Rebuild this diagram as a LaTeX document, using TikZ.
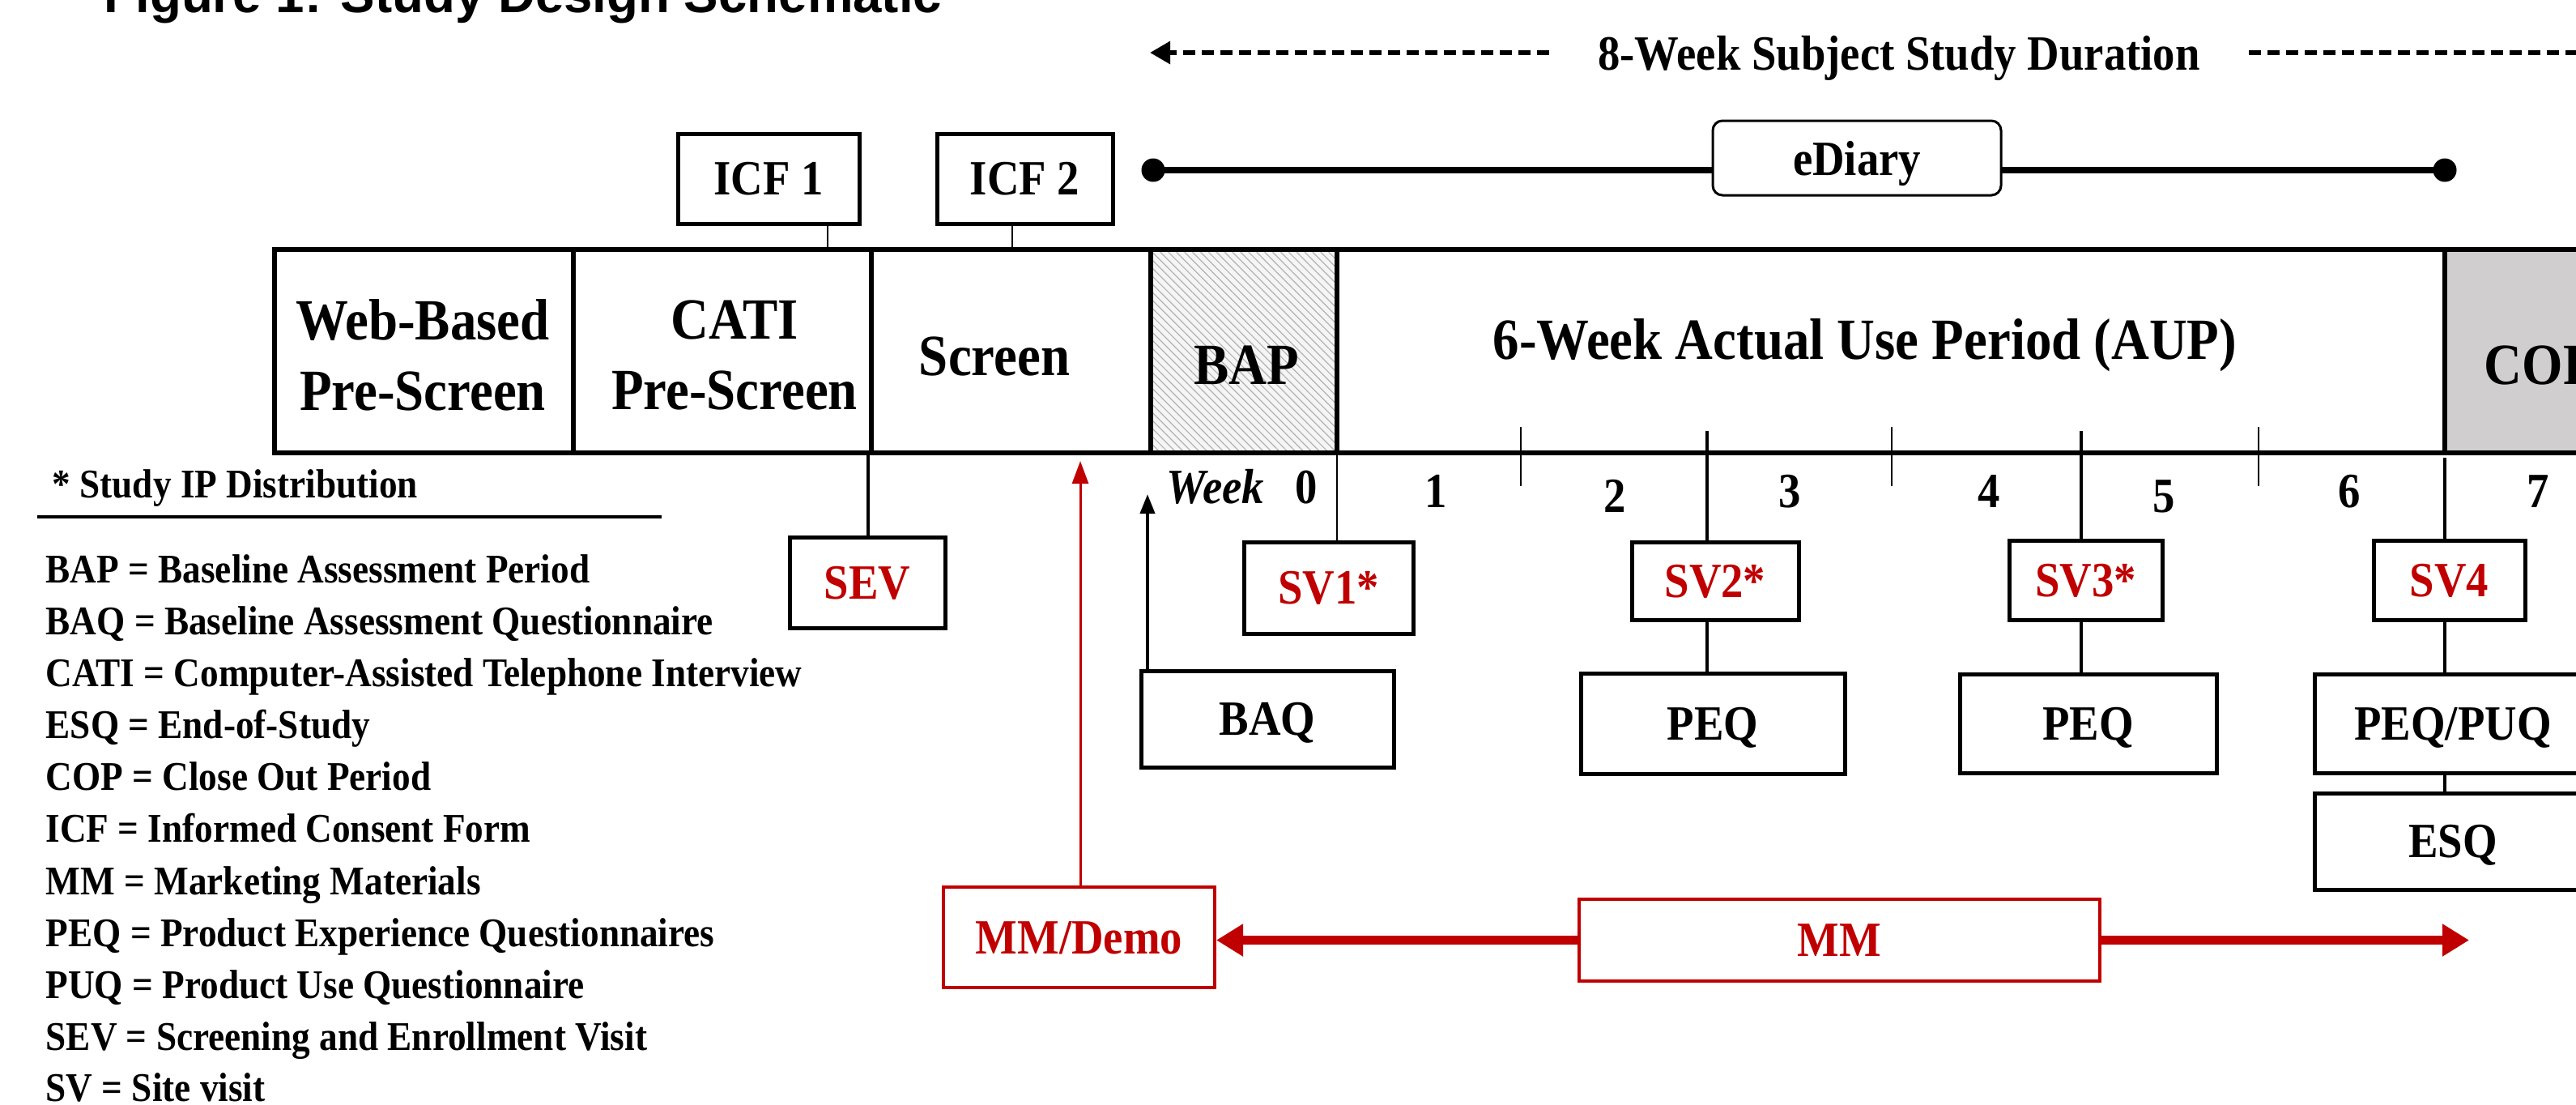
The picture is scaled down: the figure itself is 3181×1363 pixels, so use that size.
\documentclass[tikz,border=0pt]{standalone}
\usepackage{fontspec}
\setmainfont{Liberation Serif}[FakeStretch=0.9]
\newfontfamily\titlefont{Liberation Sans}
\usetikzlibrary{arrows.meta,patterns.meta}
\definecolor{dred}{RGB}{192,0,0}
\definecolor{copgray}{RGB}{208,206,206}
\newcommand\fBar{\fontsize{20.5pt}{24.75pt}\selectfont\bfseries}
\newcommand\fLbl{\fontsize{17.3pt}{20pt}\selectfont\bfseries}
\newcommand\fLeg{\fontsize{14.3pt}{17pt}\selectfont\bfseries}
\begin{document}
\begin{tikzpicture}[x=0.1mm,y=-0.1mm,
  seg/.style={draw=black, line width=0.65mm, inner sep=0pt, minimum height=25.1mm},
  boxn/.style={draw=black, line width=0.5mm, fill=white, inner sep=0pt, text depth=0pt, font=\fLbl},
  vis/.style={boxn, text=dred},
  mmbox/.style={boxn, draw=dred, text=dred, line width=0.4mm},
  bartxt/.style={font=\fBar, inner sep=0pt},
  legtxt/.style={font=\fLeg, anchor=base west, inner sep=0pt},
  numtxt/.style={font=\fLbl, anchor=base, inner sep=0pt},
  thinln/.style={line width=0.2mm},
  medln/.style={line width=0.4mm},
  dashln/.style={line width=0.6mm, dash pattern=on 1.5mm off 0.8mm},
  redarrow/.style={line width=1.1mm, draw=dred, -{Triangle[length=3.3mm,width=3.8mm]}}
]
\useasboundingbox (0,0) rectangle (3181,1363);
\clip (0,0) rectangle (3181,1363);

% title (cut off at the top)
\node[font=\titlefont\bfseries\fontsize{18.1pt}{20pt}\selectfont, anchor=base west, inner sep=0pt] (title) at (128,15) {Figure 1: Study Design Schematic};

% duration arrow
\node[font=\fLbl, text depth=0pt, inner xsep=6mm, inner ysep=0pt] (dur) at (2345,65) {8-Week Subject Study Duration};
\coordinate (durL) at (1420,65);
\coordinate (durR) at (3200,65);
\draw[dashln, -{Triangle[length=2.5mm,width=2.7mm]}] (dur.west) -- (durL);
\draw[dashln] (dur.east) -- (durR);

% eDiary
\coordinate (dL) at (1424,210);
\coordinate (dR) at (3019,210);
\draw[line width=0.85mm] (dL) -- (dR);
\fill (dL) circle (1.45mm);
\fill (dR) circle (1.45mm);
\node[boxn, rounded corners=1.2mm, line width=0.3mm, minimum width=35.6mm, minimum height=9.2mm] (ediary) at (2293,195) {eDiary};

% bar segments
\node[seg, minimum width=36.9mm] (web) at (523.5,433.5) {};
\node[seg, minimum width=36.8mm] (cati) at (892,433.5) {};
\node[seg, minimum width=34.5mm] (scr) at (1248.5,433.5) {};
\node[seg, minimum width=23mm, preaction={fill=gray!8}, pattern={Lines[angle=-45,distance=0.7mm,line width=0.12mm]}, pattern color=gray!60] (bap) at (1536,433.5) {};
\node[seg, minimum width=136.8mm] (aup) at (2335,433.5) {};
\node[seg, minimum width=28.1mm, fill=copgray] (cop) at (3159.5,433.5) {};

\node[bartxt, align=center] (webT) at (522,438) {Web-Based\\Pre-Screen};
\node[bartxt, align=center] (catiT) at (907,438) {CATI\\Pre-Screen};
\node[bartxt, anchor=base] (scrT) at (1228,463) {Screen};
\node[bartxt, anchor=base] (bapT) at (1539,474) {BAP};
\node[bartxt, anchor=base] (aupT) at (2303,443) {6-Week Actual Use Period (AUP)};
\node[bartxt, anchor=base west] (copT) at (3067,474) {COP};

% ICF boxes
\node[boxn, minimum width=22.4mm, minimum height=11.1mm] (icf1) at (949,220.5) {ICF 1};
\node[boxn, minimum width=21.7mm, minimum height=11.1mm] (icf2) at (1265.5,220.5) {ICF 2};
\coordinate (icf1b) at (1022,308);
\coordinate (icf2b) at (1250,308);
\draw[thinln] (icf1.south -| icf1b) -- (icf1b);
\draw[thinln] (icf2.south -| icf2b) -- (icf2b);

% week ticks
\coordinate (t1a) at (1878,527); \coordinate (t1b) at (1878,600);
\coordinate (t2a) at (2336,527); \coordinate (t2b) at (2336,600);
\coordinate (t3a) at (2789,527); \coordinate (t3b) at (2789,600);
\draw[thinln] (t1a) -- (t1b);
\draw[thinln] (t2a) -- (t2b);
\draw[thinln] (t3a) -- (t3b);

% week labels
\node[font=\fLbl\itshape, anchor=base west, inner sep=0pt] (wk) at (1440,621) {Week};
\node[numtxt] (n0) at (1613,621) {0};
\node[numtxt] (n1) at (1773,626) {1};
\node[numtxt] (n2) at (1994,632) {2};
\node[numtxt] (n3) at (2210,626) {3};
\node[numtxt] (n4) at (2456,626) {4};
\node[numtxt] (n5) at (2672,632) {5};
\node[numtxt] (n6) at (2901,626) {6};
\node[numtxt] (n7) at (3134,626) {7};

% visit boxes
\node[vis, minimum width=19.2mm, minimum height=11.2mm] (sev) at (1071,719) {SEV};
\node[vis, minimum width=20.9mm, minimum height=11.3mm] (sv1) at (1640.5,725.5) {SV1*};
\node[vis, minimum width=20.6mm, minimum height=9.6mm] (sv2) at (2118,717) {SV2*};
\node[vis, minimum width=18.9mm, minimum height=9.8mm] (sv3) at (2575.5,716) {SV3*};
\node[vis, minimum width=18.7mm, minimum height=9.8mm] (sv4) at (3024.5,716) {SV4};

% questionnaires
\node[boxn, minimum width=31.2mm, minimum height=11.9mm] (baq) at (1565,887.5) {BAQ};
\node[boxn, minimum width=32.6mm, minimum height=12.4mm] (peq1) at (2115,893) {PEQ};
\node[boxn, minimum width=31.7mm, minimum height=12.2mm] (peq2) at (2578.5,893) {PEQ};
\node[boxn, minimum width=34.2mm, minimum height=12.2mm] (peqpuq) at (3029,893) {PEQ/PUQ};
\node[boxn, minimum width=34.2mm, minimum height=11.9mm] (esq) at (3029,1038.5) {ESQ};

% marketing
\node[mmbox, minimum width=33.5mm, minimum height=12.4mm] (mmdemo) at (1332.5,1157) {MM/Demo};
\node[mmbox, minimum width=64.3mm, minimum height=10.1mm] (mm) at (2271.5,1160.5) {MM};

% connectors
\coordinate (cSEV) at (1072,559);
\coordinate (cSV1) at (1651,559);
\coordinate (cSV2) at (2108,532);
\coordinate (cSV3) at (2570,532);
\coordinate (cSV4) at (3019,565);
\draw[medln] (cSEV) -- (cSEV |- sev.north);
\draw[thinln] (cSV1) -- (cSV1 |- sv1.north);
\draw[medln] (cSV2) -- (cSV2 |- sv2.north);
\draw[medln] (cSV2 |- sv2.south) -- (cSV2 |- peq1.north);
\draw[medln] (cSV3) -- (cSV3 |- sv3.north);
\draw[medln] (cSV3 |- sv3.south) -- (cSV3 |- peq2.north);
\draw[medln] (cSV4) -- (cSV4 |- sv4.north);
\draw[medln] (cSV4 |- sv4.south) -- (cSV4 |- peqpuq.north);
\draw[medln] (cSV4 |- peqpuq.south) -- (cSV4 |- esq.north);

\coordinate (wkA) at (1417,610);
\draw[medln, -{Triangle[length=2.4mm,width=1.8mm]}] (baq.north -| wkA) -- (wkA);
\coordinate (rA) at (1334,569);
\draw[line width=0.3mm, draw=dred, -{Triangle[length=2.8mm,width=2mm]}, fill=dred] (mmdemo.north -| rA) -- (rA);
\coordinate (mmR) at (3049,1160.5);
\draw[redarrow] (mm.west) -- (mm.west -| mmdemo.east);
\draw[redarrow] (mm.east) -- (mmR);

% legend
\node[legtxt] (legH) at (64,614) {* Study IP Distribution};
\coordinate (ulL) at (46,638);
\coordinate (ulR) at (817,638);
\draw[line width=0.35mm] (ulL) -- (ulR);
\node[legtxt] (leg1) at (56,719) {BAP = Baseline Assessment Period};
\node[legtxt] (leg2) at (56,783) {BAQ = Baseline Assessment Questionnaire};
\node[legtxt] (leg3) at (56,847) {CATI = Computer-Assisted Telephone Interview};
\node[legtxt] (leg4) at (56,911) {ESQ = End-of-Study};
\node[legtxt] (leg5) at (56,975) {COP = Close Out Period};
\node[legtxt] (leg6) at (56,1039) {ICF = Informed Consent Form};
\node[legtxt] (leg7) at (56,1104) {MM = Marketing Materials};
\node[legtxt] (leg8) at (56,1168) {PEQ = Product Experience Questionnaires};
\node[legtxt] (leg9) at (56,1232) {PUQ = Product Use Questionnaire};
\node[legtxt] (leg10) at (56,1296) {SEV = Screening and Enrollment Visit};
\node[legtxt] (leg11) at (56,1359) {SV = Site visit};
\end{tikzpicture}
\end{document}
